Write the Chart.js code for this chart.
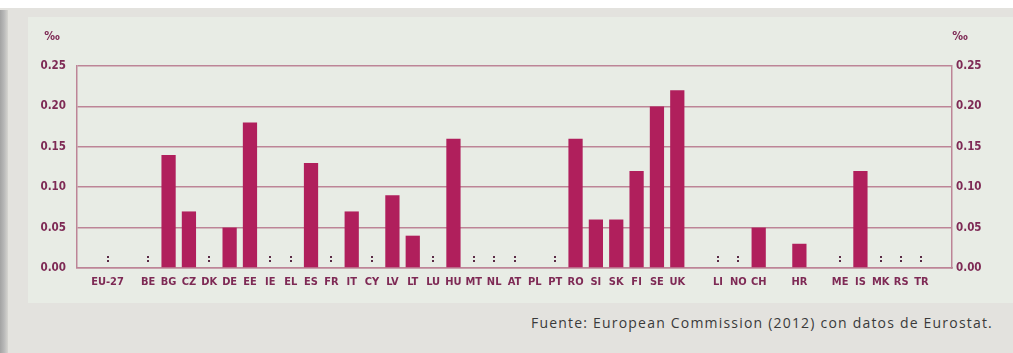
<!DOCTYPE html>
<html>
<head>
<meta charset="utf-8">
<script src="https://cdn.jsdelivr.net/npm/chart.js@4/dist/chart.umd.min.js"></script>
<style>
  html, body { margin: 0; padding: 0; background: #ffffff; }
  #page { position: relative; width: 1013px; height: 353px; overflow: hidden; background: #ffffff; }
  #outer { position: absolute; left: 0; top: 8px; width: 1013px; height: 345px; background: #e3e2de; }
  #shadow { position: absolute; left: 0; top: 10px; width: 8px; height: 343px;
            background: linear-gradient(to right, #a3a3a3, #b8b8b8 50%, #d6d5d1); }
  #inner { position: absolute; left: 28px; top: 17px; width: 985px; height: 286px; background: #e8ece5; }
  #wrap { position: absolute; left: 0; top: 0; width: 1013px; height: 303px; }
  #source { position: absolute; right: 20px; top: 313px; font-family: "Open Sans", sans-serif;
            font-size: 14px; color: #3a3a3a; white-space: nowrap; letter-spacing: 1.2px; }
</style>
</head>
<body>
<div id="page">
  <div id="outer"></div>
  <div id="shadow"></div>
  <div id="inner"></div>
  <div id="wrap"><canvas id="c" width="1013" height="303"></canvas></div>
  <div id="source">Fuente: European Commission (2012) con datos de Eurostat.</div>
</div>
<script>
// Categories ('' = empty spacer slot)
const categories = ['', 'EU-27', '', 'BE', 'BG', 'CZ', 'DK', 'DE', 'EE', 'IE', 'EL', 'ES', 'FR', 'IT', 'CY',
  'LV', 'LT', 'LU', 'HU', 'MT', 'NL', 'AT', 'PL', 'PT', 'RO', 'SI', 'SK', 'FI', 'SE', 'UK', '',
  'LI', 'NO', 'CH', '', 'HR', '', 'ME', 'IS', 'MK', 'RS', 'TR', ''];
// Values in per mille (null = no bar)
const values = [null, null, null, null, 0.14, 0.07, null, 0.05, 0.18, null, null, 0.13, null, 0.07, null,
  0.09, 0.04, null, 0.16, null, null, null, 0, null, 0.16, 0.06, 0.06, 0.12, 0.20, 0.22, null,
  null, null, 0.05, null, 0.03, null, null, 0.12, null, null, null, null];
// Countries with data not available (shown as ":")
const notAvailable = ['EU-27', 'BE', 'DK', 'IE', 'EL', 'FR', 'CY', 'LU', 'MT', 'NL', 'AT', 'PT',
  'LI', 'NO', 'ME', 'MK', 'RS', 'TR'];
const yTicks = [0, 0.05, 0.10, 0.15, 0.20, 0.25];
const unitLabel = '‰';

const FONT = "'DejaVu Sans Condensed', 'Liberation Sans Narrow', 'DejaVu Sans', sans-serif";
const LABEL_COLOR = '#7e2a55';
const GRID_COLOR = '#bd8597';
const BAR_COLOR = '#b01f5c';

const extras = {
  id: 'extras',
  afterDatasetsDraw(chart) {
    const ctx = chart.ctx;
    const xs = chart.scales.x, ys = chart.scales.y;
    const y0 = ys.getPixelForValue(0);
    ctx.save();
    ctx.fillStyle = '#5a2a45';
    categories.forEach((c, i) => {
      if (notAvailable.includes(c)) {
        const x = Math.round(xs.getPixelForValue(i));
        ctx.fillRect(x - 1, y0 - 12, 2, 2);
        ctx.fillRect(x - 1, y0 - 8, 2, 2);
      }
    });
    ctx.restore();
  },
  afterDraw(chart) {
    const ctx = chart.ctx;
    ctx.save();
    ctx.fillStyle = LABEL_COLOR;
    ctx.font = "bold 12px " + FONT;
    ctx.textBaseline = 'middle';
    ctx.textAlign = 'center';
    ctx.fillText(unitLabel, 52, 37);
    ctx.fillText(unitLabel, 960, 37);
    ctx.restore();
  }
};

new Chart(document.getElementById('c'), {
  type: 'bar',
  data: {
    labels: categories,
    datasets: [{
      data: values,
      backgroundColor: BAR_COLOR,
      borderWidth: 0,
      categoryPercentage: 1.0,
      barPercentage: 0.7,
      yAxisID: 'y'
    }]
  },
  options: {
    responsive: false,
    animation: false,
    devicePixelRatio: 1,
    layout: { padding: { top: 66, left: 0, right: 0, bottom: 0 } },
    plugins: { legend: { display: false }, tooltip: { enabled: false } },
    scales: {
      x: {
        offset: true,
        grid: { display: false, drawTicks: false },
        border: { display: true, color: GRID_COLOR, width: 1.5 },
        ticks: { color: LABEL_COLOR, font: { family: FONT, size: 11, weight: 'bold' }, padding: 8,
                 autoSkip: false, maxRotation: 0, minRotation: 0 },
        afterFit(s) { s.height = 35; }
      },
      y: {
        position: 'left',
        min: 0, max: 0.25,
        afterBuildTicks(s) { s.ticks = yTicks.map(v => ({ value: v })); },
        grid: { color: GRID_COLOR, lineWidth: 1.5, drawTicks: false },
        border: { display: true, color: GRID_COLOR, width: 1.5 },
        ticks: { color: LABEL_COLOR, font: { family: FONT, size: 11.5, weight: 'bold' }, padding: 11,
                 callback: v => v.toFixed(2) },
        afterFit(s) { s.width = 77; }
      },
      y2: {
        position: 'right',
        min: 0, max: 0.25,
        afterBuildTicks(s) { s.ticks = yTicks.map(v => ({ value: v })); },
        grid: { display: false, drawTicks: false },
        border: { display: true, color: GRID_COLOR, width: 1.5 },
        ticks: { color: LABEL_COLOR, font: { family: FONT, size: 11.5, weight: 'bold' }, padding: 4,
                 callback: v => v.toFixed(2) },
        afterFit(s) { s.width = 61; }
      }
    }
  },
  plugins: [extras]
});
</script>
</body>
</html>
